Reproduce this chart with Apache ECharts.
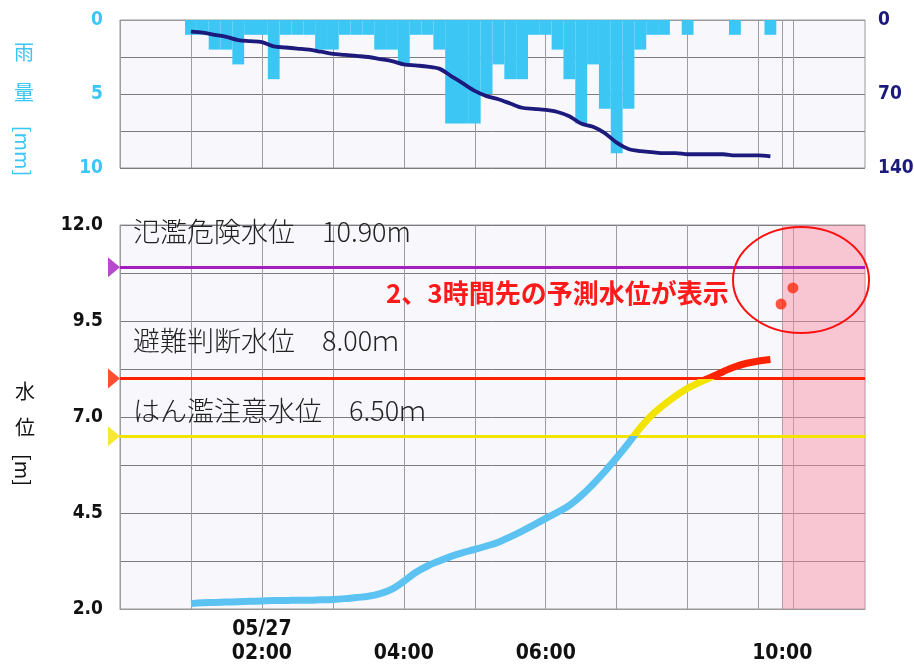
<!DOCTYPE html>
<html><head><meta charset="utf-8">
<script src="https://cdn.jsdelivr.net/npm/echarts@6/dist/echarts.min.js"></script>
<style>html,body{margin:0;padding:0;background:#fff}#c{width:914px;height:666px}</style>
</head><body><div id="c"></div>
<script>
// ---- data (x = minutes after 05/27 00:00) ----
const obsStart = 60, obsStep = 10;   // 10-minute observations from 01:00 to 09:10
const rain10min = [1,1,2,2,3,1,1,4,1,1, 1,2,2,1,1,1,2,2,3,1, 1,2,7,7,7,5,3,4,4,1, 1,2,4,7,3,6,9,6,2,1, 1,0,1,0,0,0,1,0,0,1];
const rainCumulative = [11,12,14,16,19,20,21,25,26,27, 28,30,32,33,34,35,37,39,42,43, 44,46,53,60,67,72,75,79,83,84, 85,87,91,98,101,107,116,122,124,125, 126,126,127,127,127,127,128,128,128,129];
const waterLevel = [2.14,2.16,2.17,2.18,2.19,2.20,2.21,2.22,2.22,2.23, 2.23,2.24,2.25,2.27,2.30,2.33,2.40,2.52,2.72,2.95, 3.12,3.25,3.37,3.47,3.55,3.64,3.74,3.88,4.03,4.19, 4.36,4.52,4.70,4.95,5.25,5.58,5.94,6.32,6.72,7.06, 7.32,7.55,7.75,7.90,8.04,8.18,8.31,8.40,8.46,8.50];
const forecastTimes = [559, 569];
const forecastLevels = [9.94, 10.36];
const thresholdValues = [10.9, 8.0, 6.5];
const thresholdLabels = ['氾濫危険水位　10.90m', '避難判断水位　8.00ｍ', 'はん濫注意水位　6.50ｍ'];
const forecastZone = [560, 630];
const xRange = [0, 630];
const xGridValues = [0,60,120,180,240,300,360,420,480,540,560,569];
const xTickValues = [120, 240, 360, 560];
const xTickTexts = ['05/27\n02:00', '04:00', '06:00', '10:00'];
const rainTicks = [0, 5, 10];
const cumTicks = [0, 70, 140];
const levelTicks = [2.0, 4.5, 7.0, 9.5, 12.0];
const annotationText = '2、3時間先の予測水位が表示';

// ---- styles ----
const CYAN = '#3cc6f4', NAVY = '#1c1a7c';
const thresholdColors = ['#a21ebf', '#ff2200', '#f2e400'];
const thresholdLabelDist = [[13, 22], [13, 24], [13, 12]];
const numFont = "'Liberation Sans Narrow','DejaVu Sans Condensed',sans-serif";
const jpFont = "'Noto Sans CJK JP','Noto Sans',sans-serif";

const obsTimes = rain10min.map((_, i) => obsStart + obsStep * i);
const pairs = (xs, ys) => xs.map((x, i) => [x, ys[i]]);

const chart = echarts.init(document.getElementById('c'), null, {renderer: 'canvas'});
const gridCommon = {left: 120, right: 49, show: true, backgroundColor: '#f8f8fc', borderColor: '#999', borderWidth: 1,
                    containLabel: false, outerBoundsMode: 'none'};
const xCommon = {
  type: 'value', min: xRange[0], max: xRange[1],
  axisLine: {show: true, lineStyle: {color: '#999'}},
  axisTick: {show: false, customValues: xGridValues},
  splitLine: {show: true, lineStyle: {color: '#9c9ca2', width: 1}}
};
chart.setOption({
  animation: false,
  grid: [
    Object.assign({top: 20, height: 148}, gridCommon),
    Object.assign({top: 225, height: 384}, gridCommon)
  ],
  xAxis: [
    Object.assign({gridIndex: 0, axisLabel: {show: false}}, xCommon),
    Object.assign({gridIndex: 1, axisLabel: {
      show: true, customValues: xTickValues, margin: 9,
      formatter: v => { const t = xTickTexts[xTickValues.indexOf(v)] || ''; return t.indexOf('\n') < 0 ? '\n' + t : t; },
      fontFamily: numFont, fontWeight: 'bold', fontSize: 21, lineHeight: 24, color: '#111'
    }}, xCommon)
  ],
  yAxis: [
    {gridIndex: 0, type: 'value', min: 0, max: 10, interval: 2.5, inverse: true,
     axisLine: {show: false}, axisTick: {show: false},
     axisLabel: {customValues: rainTicks, color: CYAN, fontFamily: numFont, fontWeight: 'bold', fontSize: 19, margin: 17},
     splitLine: {lineStyle: {color: '#7c7c80'}}},
    {gridIndex: 0, type: 'value', min: 0, max: 140, interval: 35, inverse: true, position: 'right',
     axisLine: {show: false}, axisTick: {show: false}, splitLine: {show: false},
     axisLabel: {customValues: cumTicks, color: NAVY, fontFamily: numFont, fontWeight: 'bold', fontSize: 19, margin: 13}},
    {gridIndex: 1, type: 'value', min: 2, max: 12, interval: 1.25,
     axisLine: {show: false}, axisTick: {show: false},
     axisLabel: {customValues: levelTicks, formatter: v => v.toFixed(1), color: '#111', fontFamily: numFont, fontWeight: 'bold', fontSize: 19, margin: 17},
     splitLine: {lineStyle: {color: '#7c7c80'}}}
  ],
  visualMap: {
    type: 'piecewise', show: false, seriesIndex: 3, dimension: 1,
    pieces: [
      {lt: thresholdValues[2], color: '#5cc2f2'},
      {gte: thresholdValues[2], lt: thresholdValues[1], color: thresholdColors[2]},
      {gte: thresholdValues[1], color: thresholdColors[1]}
    ]
  },
  series: [
    // 10-minute rainfall bars hanging from the top (each bar spans one observation interval)
    {type: 'custom', xAxisIndex: 0, yAxisIndex: 0, data: pairs(obsTimes, rain10min), silent: true, z: 2,
     renderItem: (params, api) => {
       const t = api.value(0), v = api.value(1);
       if (!v) return null;
       const a = api.coord([t - obsStep / 2, 0]);
       const b = api.coord([t + obsStep / 2, v]);
       return {type: 'rect', shape: {x: a[0], y: a[1], width: b[0] - a[0], height: b[1] - a[1]},
               style: {fill: CYAN}};
     }},
    {type: 'line', xAxisIndex: 0, yAxisIndex: 1, data: pairs(obsTimes, rainCumulative),
     smooth: 0.3, showSymbol: false, lineStyle: {color: NAVY, width: 3.8}, silent: true, z: 3},
    {type: 'line', xAxisIndex: 1, yAxisIndex: 2, data: [], silent: true, z: 1,
     markArea: {silent: true, itemStyle: {color: 'rgba(247,145,165,0.48)'},
       data: [[{xAxis: forecastZone[0]}, {xAxis: forecastZone[1]}]]}},
    {type: 'line', xAxisIndex: 1, yAxisIndex: 2, data: pairs(obsTimes, waterLevel),
     smooth: 0.4, showSymbol: false, lineStyle: {width: 7}, silent: true, z: 5},
    {type: 'scatter', xAxisIndex: 1, yAxisIndex: 2, data: pairs(forecastTimes, forecastLevels),
     symbolSize: 11, itemStyle: {color: '#ff2a10'}, silent: true, z: 6},
    {type: 'line', xAxisIndex: 1, yAxisIndex: 2, data: [], silent: true, z: 4,
     markLine: {
       silent: true, animation: false, symbol: 'none',
       data: thresholdValues.map((v, i) => ({
         yAxis: v,
         lineStyle: {color: thresholdColors[i], width: 3, type: 'solid'},
         label: {show: true, position: 'insideStartTop', distance: thresholdLabelDist[i],
                 formatter: thresholdLabels[i], color: '#222', fontSize: 27, fontWeight: 300, fontFamily: jpFont}
       }))
     }},
    // triangle markers at the left end of each threshold line
    {type: 'scatter', xAxisIndex: 1, yAxisIndex: 2, clip: false, silent: true, z: 7,
     data: thresholdValues.map((v, i) => ({value: [xRange[0], v], itemStyle: {color: thresholdColors[i]}})),
     symbol: 'triangle', symbolSize: [20, 12], symbolRotate: -90, symbolOffset: [-6, 0]}
  ],
  graphic: [
    {type: 'text', x: 24, y: 52, style: {text: '雨', fill: CYAN, font: '20px ' + jpFont, textAlign: 'center', textVerticalAlign: 'middle'}},
    {type: 'text', x: 24, y: 92, style: {text: '量', fill: CYAN, font: '20px ' + jpFont, textAlign: 'center', textVerticalAlign: 'middle'}},
    {type: 'text', x: 23, y: 151, rotation: -Math.PI / 2, style: {text: '[mm]', fill: CYAN, font: '20px ' + jpFont, textAlign: 'center', textVerticalAlign: 'middle'}},
    {type: 'text', x: 25, y: 391, style: {text: '水', fill: '#111', font: '20px ' + jpFont, textAlign: 'center', textVerticalAlign: 'middle'}},
    {type: 'text', x: 25, y: 427, style: {text: '位', fill: '#111', font: '20px ' + jpFont, textAlign: 'center', textVerticalAlign: 'middle'}},
    {type: 'text', x: 23, y: 470, rotation: -Math.PI / 2, style: {text: '[m]', fill: '#111', font: '20px ' + jpFont, textAlign: 'center', textVerticalAlign: 'middle'}},
    {type: 'text', x: 386, y: 293, z: 100, style: {text: annotationText, fill: '#ff1a1a', font: 'bold 26px ' + jpFont, textAlign: 'left', textVerticalAlign: 'middle'}},
    {type: 'ellipse', z: 100, shape: {cx: 801, cy: 280, rx: 68, ry: 53}, style: {fill: 'none', stroke: '#ff1010', lineWidth: 2}}
  ]
});
</script></body></html>
